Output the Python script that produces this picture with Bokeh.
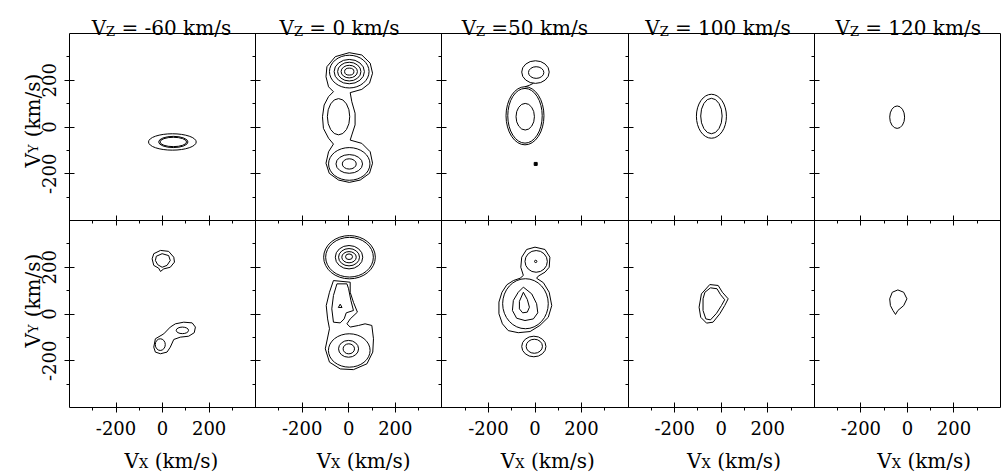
import math
from bokeh.plotting import figure
from bokeh.models import (Range1d, LinearAxis, FixedTicker, Label,
                          CustomJSTickFormatter, ColumnDataSource)
from bokeh.embed import file_html
from bokeh.resources import INLINE

# ---------------------------------------------------------------- data
VZ_VALUES = ["-60", "0", "50", "100", "120"]          # panel columns (km/s)
TITLE_EQ = ["= ", "= ", "=", "= ", "= "]
AXIS_MAJOR = [-200, 0, 200]                            # km/s
AXIS_MINOR = [-300, -100, 100, 300]
PANEL_SPAN = 800                                       # each panel -400..400 km/s

# contours, Vx / Vy in km/s
# ellipse contours: (centre Vx, centre Vy, width, height)
ELL_TOP_M60 = [(42, -64, 205, 70), (46, -64, 126, 48), (46, -64, 114, 40)]
ELL_TOP_0 = [(2, 237, 170, 140), (2, 237, 130, 104), (2, 237, 100, 80),
             (2, 237, 70, 54), (2, 237, 40, 30), (-44, 44, 96, 155),
             (2, -158, 178, 140), (2, -158, 114, 80), (2, -158, 60, 44)]
ELL_TOP_50 = [(2, 235, 118, 97), (5, 233, 66, 50), (-43, 48, 163, 249),
              (-43, 48, 148, 234), (-42, 44, 79, 114)]
ELL_TOP_100 = [(-42, 46, 129, 188), (-42, 47, 92, 152)]
ELL_TOP_120 = [(-44, 42, 64, 96)]
ELL_BOT_M60 = [(85, -70, 53, 28), (-10, -131, 43, 50)]
ELL_BOT_0 = [(3, 243, 222, 185), (3, 243, 205, 170), (1, 243, 118, 100),
             (1, 243, 90, 74), (1, 243, 62, 48), (1, 245, 30, 24),
             (2, -156, 179, 143), (-1, -149, 86, 72), (0, -149, 49, 43)]
ELL_BOT_50 = [(5, 225, 96, 93), (3, 225, 10, 10), (-41, 44, 196, 214),
              (-5, -139, 104, 88), (-3, -138, 70, 60)]
ELL_BOT_100 = []
ELL_BOT_120 = []

# irregular contours: closed polygons of (Vx, Vy)
PEANUT_TOP_0 = [(2, 318), (56, 308), (92, 273), (102, 230), (89, 187), (56, 161),
                (6, 147), (13, 108), (27, 59), (27, 9), (13, -34), (6, -56),
                (56, -70), (92, -106), (102, -155), (89, -198), (49, -227),
                (2, -237), (-44, -227), (-84, -198), (-98, -155), (-87, -106),
                (-66, -73), (-87, -48), (-109, -6), (-113, 44), (-106, 94),
                (-87, 130), (-66, 151), (-87, 172), (-98, 215), (-94, 258),
                (-58, 301)]
BLOB_OUT_BOT_M60 = [(-38, 258), (-9, 272), (26, 268), (48, 243), (51, 222),
                    (33, 200), (5, 193), (-9, 182), (-17, 196), (-38, 208),
                    (-45, 236)]
BLOB_IN_BOT_M60 = [(-27, 247), (-2, 258), (26, 250), (33, 229), (19, 208),
                   (-2, 200), (-21, 211), (-31, 229)]
BANANA_BOT_M60 = [(-38, -142), (-31, -106), (5, -85), (33, -56), (55, -42),
                  (91, -35), (127, -38), (141, -56), (136, -80), (112, -95),
                  (76, -99), (48, -109), (33, -142), (19, -163), (-9, -170),
                  (-31, -163)]
BODY_OUT_BOT_0 = [(-66, 143), (-83, 93), (-97, 36), (-91, -21), (-83, -63),
                  (-101, -149), (-83, -206), (-37, -235), (20, -238), (78, -213),
                  (103, -163), (106, -106), (99, -49), (70, -42), (42, -49),
                  (6, -56), (-8, -42), (6, -21), (37, 8), (20, 50), (6, 93),
                  (6, 136)]
BODY_IN_BOT_0 = [(-51, 129), (-66, 79), (-73, 22), (-66, -35), (-37, -38),
                 (-20, -21), (-11, 5), (20, 15), (9, 58), (-1, 108), (-8, 129)]
SPOT_BOT_0 = [(-45, 28), (-29, 28), (-37, 42)]
OUTER_BOT_50 = [(-61, 200), (-57, 243), (-36, 276), (0, 286), (43, 276),
                (64, 243), (61, 200), (43, 179), (14, 162), (7, 153), (36, 134),
                (61, 93), (72, 36), (57, -14), (21, -49), (-21, -75), (-72, -80),
                (-115, -71), (-140, -42), (-155, 1), (-155, 51), (-142, 93),
                (-121, 125), (-93, 143), (-64, 153), (-50, 165)]
DROP_BOT_50 = [(-50, 115), (-14, 86), (7, 44), (12, 5), (-7, -21), (-43, -28),
               (-79, -18), (-97, 15), (-93, 58), (-72, 93)]
DROP_IN_BOT_50 = [(-50, 93), (-33, 62), (-24, 29), (-33, 8), (-53, 5),
                  (-67, 22), (-67, 54)]
EGG_OUT_BOT_100 = [(-49, 126), (-13, 122), (5, 93), (30, 65), (15, 36), (-6, 1),
                   (-35, -35), (-63, -39), (-88, -14), (-95, 29), (-85, 86)]
EGG_IN_BOT_100 = [(-46, 112), (-18, 108), (-3, 83), (15, 61), (1, 36), (-20, 3),
                  (-46, -25), (-66, -21), (-78, 15), (-78, 65), (-70, 93)]
EGG_BOT_120 = [(-41, 103), (-16, 93), (-2, 65), (-16, 36), (-41, 15), (-51, -2),
               (-62, 15), (-73, 36), (-76, 65), (-65, 93)]
# open contour piece (neck between the two blobs at Vz = 50 km/s)
NECK_TOP_50 = [(-7, 187), (-25, 178), (-43, 172)]

POLY_TOP = [[], [PEANUT_TOP_0], [], [], []]
POLY_BOT = [[BLOB_OUT_BOT_M60, BLOB_IN_BOT_M60, BANANA_BOT_M60],
            [BODY_OUT_BOT_0, BODY_IN_BOT_0, SPOT_BOT_0],
            [OUTER_BOT_50, DROP_BOT_50, DROP_IN_BOT_50],
            [EGG_OUT_BOT_100, EGG_IN_BOT_100],
            [EGG_BOT_120]]
OPEN_TOP = [[], [], [NECK_TOP_50], [], []]
ELL_TOP = [ELL_TOP_M60, ELL_TOP_0, ELL_TOP_50, ELL_TOP_100, ELL_TOP_120]
ELL_BOT = [ELL_BOT_M60, ELL_BOT_0, ELL_BOT_50, ELL_BOT_100, ELL_BOT_120]
DOT_TOP = [[], [], [(3, -158)], [], []]

# ---------------------------------------------------------------- layout
NCOL = 5
W, H = 1001, 472
PL, PR, PT, PB = 69, 1000, 33, 407             # panel block in canvas pixels
FONT = "DejaVu Serif"
BIG = 20
SUB = 13
TITLE_SHIFT = [-1, -9, -10, -3, 1]             # px
XLAB_SHIFT = [9, 15, 13, 13, 17]               # px
YLAB_START = [167, 347]                        # px (canvas y) where the rotated label starts

XMIN, XMAX = -400, -400 + NCOL * PANEL_SPAN
YMIN, YMAX = -400, 400 + PANEL_SPAN
UX = (XMAX - XMIN) / (PR - PL)
UY = (YMAX - YMIN) / (PB - PT)


def cx_(px):
    return XMIN + (px - PL) * UX


def cy_(py):
    return YMAX - (py - PT) * UY


CHAR_W = {'V': 0.722, 'Z': 0.685, 'X': 0.722, 'Y': 0.722, ' ': 0.318,
          '=': 0.838, '-': 0.338, 'k': 0.624, 'm': 0.949, '/': 0.337,
          's': 0.513, '(': 0.391, ')': 0.391}


def tw(s, size):
    return sum(CHAR_W.get(ch, 0.636) for ch in s) * size


row_off = [PANEL_SPAN, 0]  # top row centred at 800, bottom at 0

p = figure(width=W, height=H,
           x_range=Range1d(cx_(0), cx_(W)), y_range=Range1d(cy_(H), cy_(0)),
           x_axis_location=None, y_axis_location=None,
           output_backend="svg", toolbar_location=None, tools="",
           min_border_left=0, min_border_right=0,
           min_border_top=0, min_border_bottom=0,
           background_fill_color="white", border_fill_color="white")
p.grid.visible = False
p.outline_line_color = None

x_major = [c * PANEL_SPAN + t for c in range(NCOL) for t in AXIS_MAJOR]
x_minor = [c * PANEL_SPAN + t for c in range(NCOL) for t in AXIS_MINOR]
y_major = [r + t for r in row_off[::-1] for t in AXIS_MAJOR]
y_minor = [r + t for r in row_off[::-1] for t in AXIS_MINOR]

wrap = CustomJSTickFormatter(code="const v = tick - 800*Math.round(tick/800); return v.toFixed(0);")
blank = CustomJSTickFormatter(code="return '';")


def add_axis(side, loc, ticks, minor, labelled, bounds):
    ax = LinearAxis(fixed_location=loc, bounds=bounds,
                    ticker=FixedTicker(ticks=ticks, minor_ticks=minor),
                    formatter=wrap if labelled else blank)
    ax.axis_line_color = "black"
    ax.axis_line_width = 1
    ax.major_tick_line_color = "black"
    ax.major_tick_in = 5 if ticks else 0
    ax.major_tick_out = 5 if ticks else 0
    ax.minor_tick_line_color = "black"
    ax.minor_tick_in = 0
    ax.minor_tick_out = 3 if minor else 0
    ax.major_label_text_font = FONT
    ax.major_label_text_font_size = "18px"
    ax.major_label_text_color = "black"
    if side in ("left", "right"):
        ax.major_label_orientation = "vertical"
        ax.major_label_standoff = 9
    else:
        ax.major_label_standoff = 8
    p.add_layout(ax, side)
    return ax


XB, YB = (XMIN, XMAX), (YMIN, YMAX)
add_axis("left", XMIN, y_major, y_minor, True, YB)
for k in range(1, NCOL):
    add_axis("left", XMIN + k * PANEL_SPAN, y_major, y_minor, False, YB)
add_axis("right", XMAX, [], [], False, YB)
add_axis("below", YMIN, x_major, x_minor, True, XB)
add_axis("below", YMIN + PANEL_SPAN, x_major, x_minor, False, XB)
add_axis("above", YMAX, [], [], False, XB)

# ---------------------------------------------------------------- contours
ex, ey, ew, eh = [], [], [], []
pxs, pys = [], []
lxs, lys = [], []
dx, dy = [], []
for r, (ells, polys) in enumerate([(ELL_TOP, POLY_TOP), (ELL_BOT, POLY_BOT)]):
    for c in range(NCOL):
        ox, oy = c * PANEL_SPAN, row_off[r]
        for (cx, cy, w, h) in ells[c]:
            ex.append(cx + ox); ey.append(cy + oy); ew.append(w); eh.append(h)
        for poly in polys[c]:
            pxs.append([v[0] + ox for v in poly])
            pys.append([v[1] + oy for v in poly])
for c in range(NCOL):
    ox, oy = c * PANEL_SPAN, row_off[0]
    for line in OPEN_TOP[c]:
        lxs.append([v[0] + ox for v in line])
        lys.append([v[1] + oy for v in line])
    for (vx, vy) in DOT_TOP[c]:
        dx.append(vx + ox); dy.append(vy + oy)

p.ellipse(x="x", y="y", width="w", height="h",
          source=ColumnDataSource(dict(x=ex, y=ey, w=ew, h=eh)),
          fill_color=None, line_color="black", line_width=1)
p.patches(xs="xs", ys="ys", source=ColumnDataSource(dict(xs=pxs, ys=pys)),
          fill_color=None, line_color="black", line_width=1)
p.multi_line(xs="xs", ys="ys", source=ColumnDataSource(dict(xs=lxs, ys=lys)),
             line_color="black", line_width=1)
p.scatter(x=dx, y=dy, marker="square", size=3, color="black")

# ---------------------------------------------------------------- texts


def lab(px, py, text, size, angle=0.0):
    p.add_layout(Label(x=cx_(px), y=cy_(py), text=text,
                       angle=angle, text_font=FONT, text_font_size=f"{size}px",
                       text_color="black", text_align="left",
                       text_baseline="alphabetic"))


SPACE = tw(" ", BIG)
panel_w = (PR - PL) / NCOL
for c in range(NCOL):
    pc = PL + panel_w * (c + 0.5)
    rest = TITLE_EQ[c] + VZ_VALUES[c] + " km/s"
    wv, wz, wr = tw("V", BIG), tw("Z", SUB), tw(rest, BIG)
    s = pc - (wv + wz + SPACE + wr) / 2 + TITLE_SHIFT[c]
    lab(s, 27, "V", BIG)
    lab(s + wv, 30.5, "Z", SUB)
    lab(s + wv + wz + SPACE, 27, rest, BIG)

    rest = "(km/s)"
    wx, wr = tw("X", SUB), tw(rest, BIG)
    s = pc - (wv + wx + SPACE + wr) / 2 + XLAB_SHIFT[c]
    lab(s, 460, "V", BIG)
    lab(s + wv, 463, "X", SUB)
    lab(s + wv + wx + SPACE, 460, rest, BIG)

for r in range(2):
    wv, wy = tw("V", BIG), tw("Y", SUB)
    s = YLAB_START[r]
    lab(32, s, "V", BIG, math.pi / 2)
    lab(33, s - wv, "Y", SUB, math.pi / 2)
    lab(32, s - wv - wy - SPACE, "(km/s)", BIG, math.pi / 2)

open("out.html", "w").write(file_html(p, INLINE))
